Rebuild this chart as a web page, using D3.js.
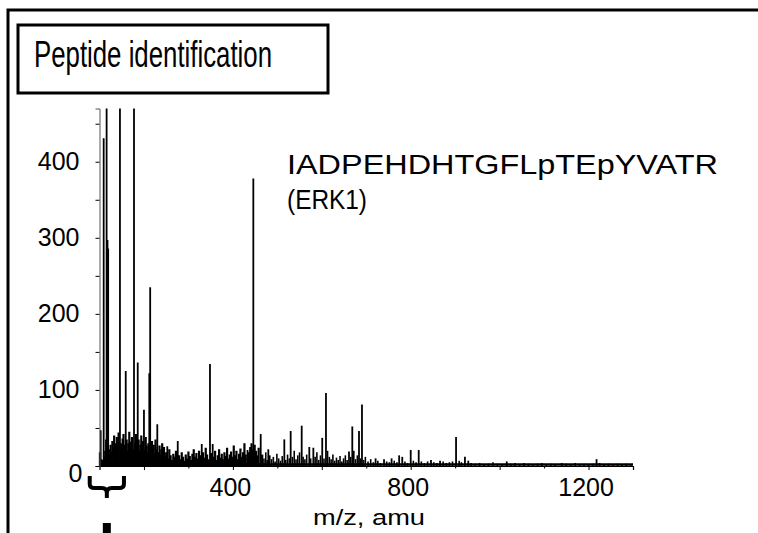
<!DOCTYPE html>
<html>
<head>
  <meta charset="utf-8">
  <title>Peptide identification</title>
  <script src="https://d3js.org/d3.v7.min.js"></script>
  <style>
    body { margin: 0; background: #fff; }
    text { font-family: "Liberation Sans", Arial, sans-serif; fill: #000; }
  </style>
</head>
<body>
<div id="chart"></div>
<script>
// big fragment peaks, m/z and intensity (the ones above 470 run off the top)
var peakMz  = [102.7, 109.4, 116, 118, 119.5, 146, 159, 177.6, 186, 200, 212, 214, 230, 252.5, 276, 330, 348.5, 354.6, 433, 446,
               462.6, 479.7, 515.7, 530, 554.8, 571.9, 581, 601, 609.4, 661.2, 668.6, 683.7, 690.4, 721, 740, 757, 774, 781,
               800, 818, 845.6, 866, 902, 922, 929.5, 1016, 1034.5, 1139.6, 1218];
var peakInt = [47, 431, 640, 297, 286, 640, 125, 640, 136, 74, 122, 235, 55, 26, 33, 29, 134, 29, 21, 378,
               42, 22, 35, 46, 53, 25, 24, 37, 96, 19, 52, 46, 81, 10, 9, 10, 14, 12,
               21, 21, 8, 7, 38, 12, 7, 6, 4, 4, 9];

// chemical noise under the peaks
var noiseMz  = [101, 104, 106, 111, 113, 115, 121, 123, 125, 127, 129, 131, 133, 135, 137, 139, 141, 143, 148, 150, 152, 154, 156,
                161, 163, 165, 167, 169, 171, 173, 175, 180, 182, 184, 188, 190, 192, 194, 196, 198, 202, 204, 206, 208, 210,
                216, 218, 220, 222, 224, 226, 228, 233, 235, 237, 239, 241, 243, 245, 247,
                250, 254, 257, 260, 263, 266, 269, 272, 279, 282, 285, 288, 291, 294, 297, 300, 303, 306, 309, 312, 315, 318,
                321, 324, 327, 333, 336, 339, 342, 345, 351, 357, 360, 363, 366, 369, 372, 375, 378, 381, 384, 387, 390, 393,
                396, 399, 402, 405, 408, 411, 414, 417, 420, 423, 426, 429, 436, 439, 442, 444, 449, 452, 455, 458,
                466, 470, 474, 477, 483, 487, 491, 495, 499, 503, 507, 511, 519, 523, 527, 534, 538, 542, 546, 550, 558, 562,
                566, 575, 585, 589, 593, 597, 605, 613, 617, 621, 625, 629, 633, 637, 641, 645, 649, 653, 657, 665, 672, 676,
                680, 687, 694, 698,
                704, 710, 716, 726, 732, 746, 752, 763, 769, 787, 793, 806, 812, 824, 831, 838, 852, 859, 873, 880, 887, 894,
                909, 914, 936, 945, 955, 965, 975, 985, 995, 1005, 1025, 1045, 1055, 1065, 1075, 1085, 1095, 1105, 1115, 1125,
                1150, 1160, 1170, 1180, 1190, 1200, 1210, 1225, 1235, 1245, 1255, 1265, 1275, 1285, 1295];
var noiseInt = [18, 9, 8, 12, 20, 35, 22, 15, 28, 18, 33, 25, 40, 30, 22, 38, 27, 44, 30, 24, 36, 42, 28,
                35, 20, 30, 45, 25, 32, 38, 22, 30, 42, 26, 35, 20, 28, 40, 25, 33, 22, 38, 27, 18, 30,
                24, 33, 20, 28, 16, 35, 22, 18, 27, 14, 22, 30, 15, 25, 12,
                18, 10, 22, 14, 8, 16, 12, 20, 14, 9, 18, 12, 7, 15, 10, 19, 13, 8, 16, 22, 12, 17,
                10, 20, 14, 18, 11, 24, 15, 9, 17, 12, 20, 8, 14, 22, 11, 16, 9, 18, 13, 24, 10, 15,
                19, 12, 27, 14, 20, 9, 16, 23, 12, 18, 30, 15, 18, 25, 30, 22, 28, 20, 14, 24,
                15, 10, 18, 8, 14, 9, 12, 6, 16, 10, 7, 13, 8, 15, 10, 12, 20, 9, 14, 18, 12, 9,
                15, 10, 12, 18, 8, 14, 10, 20, 12, 9, 15, 7, 11, 8, 13, 6, 10, 14, 8, 12, 20, 9,
                14, 10, 8, 12,
                6, 9, 5, 7, 4, 6, 5, 7, 5, 6, 4, 7, 5, 6, 4, 6, 5, 4, 6, 4, 5, 6,
                7, 5, 4, 3, 4, 2, 3, 5, 3, 2, 3, 2, 4, 3, 2, 3, 4, 2, 3, 2,
                3, 2, 4, 2, 3, 2, 3, 4, 2, 3, 2, 3, 2, 3, 2];

var xTicks = [200, 300, 400, 500, 600, 700, 800, 900, 1000, 1100, 1200, 1300];
var xLabels = [400, 800, 1200];
var yTicks = [0, 50, 100, 150, 200, 250, 300, 350, 400, 450];
var yLabels = [0, 100, 200, 300, 400];
var braceMz = [78, 155];

var width = 758, height = 533;

var svg = d3.select("#chart").append("svg")
    .attr("width", width)
    .attr("height", height);

var x = d3.scaleLinear().domain([100, 1300]).range([99.5, 633]);
var y = d3.scaleLinear().domain([0, 470]).range([466, 108.5]);

// outer frame (left + top only)
svg.append("path")
    .attr("d", "M8,533V10H758")
    .attr("fill", "none")
    .attr("stroke", "#000")
    .attr("stroke-width", 3);

// title box
svg.append("rect")
    .attr("x", 18).attr("y", 25)
    .attr("width", 310).attr("height", 68)
    .attr("fill", "none")
    .attr("stroke", "#000")
    .attr("stroke-width", 3);

svg.append("text")
    .attr("x", 34).attr("y", 67)
    .attr("font-size", 36)
    .attr("textLength", 238)
    .attr("lengthAdjust", "spacingAndGlyphs")
    .text("Peptide identification");

svg.append("clipPath").attr("id", "plot")
  .append("rect")
    .attr("x", x(100) - 2).attr("y", y(470))
    .attr("width", x(1300) - x(100) + 4).attr("height", y(0) - y(470) + 1);

var spec = svg.append("g").attr("clip-path", "url(#plot)");

var noise = noiseMz.map(function(m, i) { return {mz: m, c: noiseInt[i]}; });
var peaks = peakMz.map(function(m, i) { return {mz: m, c: peakInt[i]}; });

spec.selectAll(".noise")
    .data(noise)
    .enter().append("line")
    .attr("class", "noise")
    .attr("x1", function(d) { return x(d.mz); })
    .attr("x2", function(d) { return x(d.mz); })
    .attr("y1", y(0))
    .attr("y2", function(d) { return y(d.c); })
    .attr("stroke", "#000")
    .attr("stroke-width", function(d) { return d.mz < 470 ? 2.2 : 1.6; });

spec.selectAll(".peak")
    .data(peaks)
    .enter().append("line")
    .attr("class", "peak")
    .attr("x1", function(d) { return x(d.mz); })
    .attr("x2", function(d) { return x(d.mz); })
    .attr("y1", y(0))
    .attr("y2", function(d) { return y(d.c); })
    .attr("stroke", "#000")
    .attr("stroke-width", 1.8);

// baseline of the trace
spec.append("line")
    .attr("x1", x(100)).attr("x2", x(1300))
    .attr("y1", y(2)).attr("y2", y(2))
    .attr("stroke", "#000")
    .attr("stroke-width", 2.5);

// axes
var xAxis = svg.append("g")
    .attr("transform", "translate(0," + y(0) + ")")
    .call(d3.axisBottom(x).tickValues(xTicks).tickSizeOuter(0).tickSize(4)
      .tickFormat(function(d) { return xLabels.indexOf(d) >= 0 ? d : ""; }));
xAxis.select(".domain").attr("stroke", "#000").attr("stroke-width", 1.2);
xAxis.selectAll(".tick line").attr("stroke", "#000")
    .attr("y2", function(d) { return d % 200 === 0 ? 4 : 2.5; });
xAxis.selectAll(".tick text")
    .attr("font-size", 25)
    .attr("font-family", "Liberation Sans, Arial, sans-serif")
    .attr("x", -3)
    .attr("y", 12)
    .attr("dy", "0.71em");

var yAxis = svg.append("g")
    .attr("transform", "translate(" + x(100) + ",0)")
    .call(d3.axisLeft(y).tickValues(yTicks).tickSizeOuter(0).tickSize(4).tickPadding(16)
      .tickFormat(function(d) { return yLabels.indexOf(d) >= 0 ? d : ""; }));
yAxis.select(".domain").attr("stroke", "#555").attr("stroke-width", 1);
yAxis.selectAll(".tick line").attr("stroke", "#000");
yAxis.selectAll(".tick text")
    .attr("font-size", 25)
    .attr("font-family", "Liberation Sans, Arial, sans-serif");
yAxis.selectAll(".tick").filter(function(d) { return d === 0; }).select("text")
    .attr("x", -17).attr("dy", "0.62em");

svg.append("text")
    .attr("x", 369).attr("y", 525)
    .attr("text-anchor", "middle")
    .attr("font-size", 22)
    .attr("textLength", 112)
    .attr("lengthAdjust", "spacingAndGlyphs")
    .text("m/z, amu");

// peptide label
svg.append("text")
    .attr("x", 287).attr("y", 174)
    .attr("font-size", 28)
    .attr("textLength", 431)
    .attr("lengthAdjust", "spacingAndGlyphs")
    .text("IADPEHDHTGFLpTEpYVATR");
svg.append("text")
    .attr("x", 287).attr("y", 209)
    .attr("font-size", 28)
    .attr("textLength", 80)
    .attr("lengthAdjust", "spacingAndGlyphs")
    .text("(ERK1)");

// brace under the low-mass region
var bx0 = x(braceMz[0]), bx1 = x(braceMz[1]), bm = (bx0 + bx1) / 2;
var by = y(0) + 10;
svg.append("path")
    .attr("d", "M" + bx0 + "," + by + "V" + (by + 8) + "Q" + bx0 + "," + (by + 12) + " " + (bx0 + 5) + "," + (by + 12) +
               "H" + (bm - 5) + "Q" + bm + "," + (by + 12) + " " + bm + "," + (by + 17) + "V" + (by + 22) +
               "M" + bx1 + "," + by + "V" + (by + 8) + "Q" + bx1 + "," + (by + 12) + " " + (bx1 - 5) + "," + (by + 12) +
               "H" + (bm + 5) + "Q" + bm + "," + (by + 12) + " " + bm + "," + (by + 17))
    .attr("fill", "none")
    .attr("stroke", "#000")
    .attr("stroke-width", 4);
svg.append("rect")
    .attr("x", bm - 4).attr("y", 523)
    .attr("width", 8).attr("height", 10)
    .attr("fill", "#000");
</script>
</body>
</html>
